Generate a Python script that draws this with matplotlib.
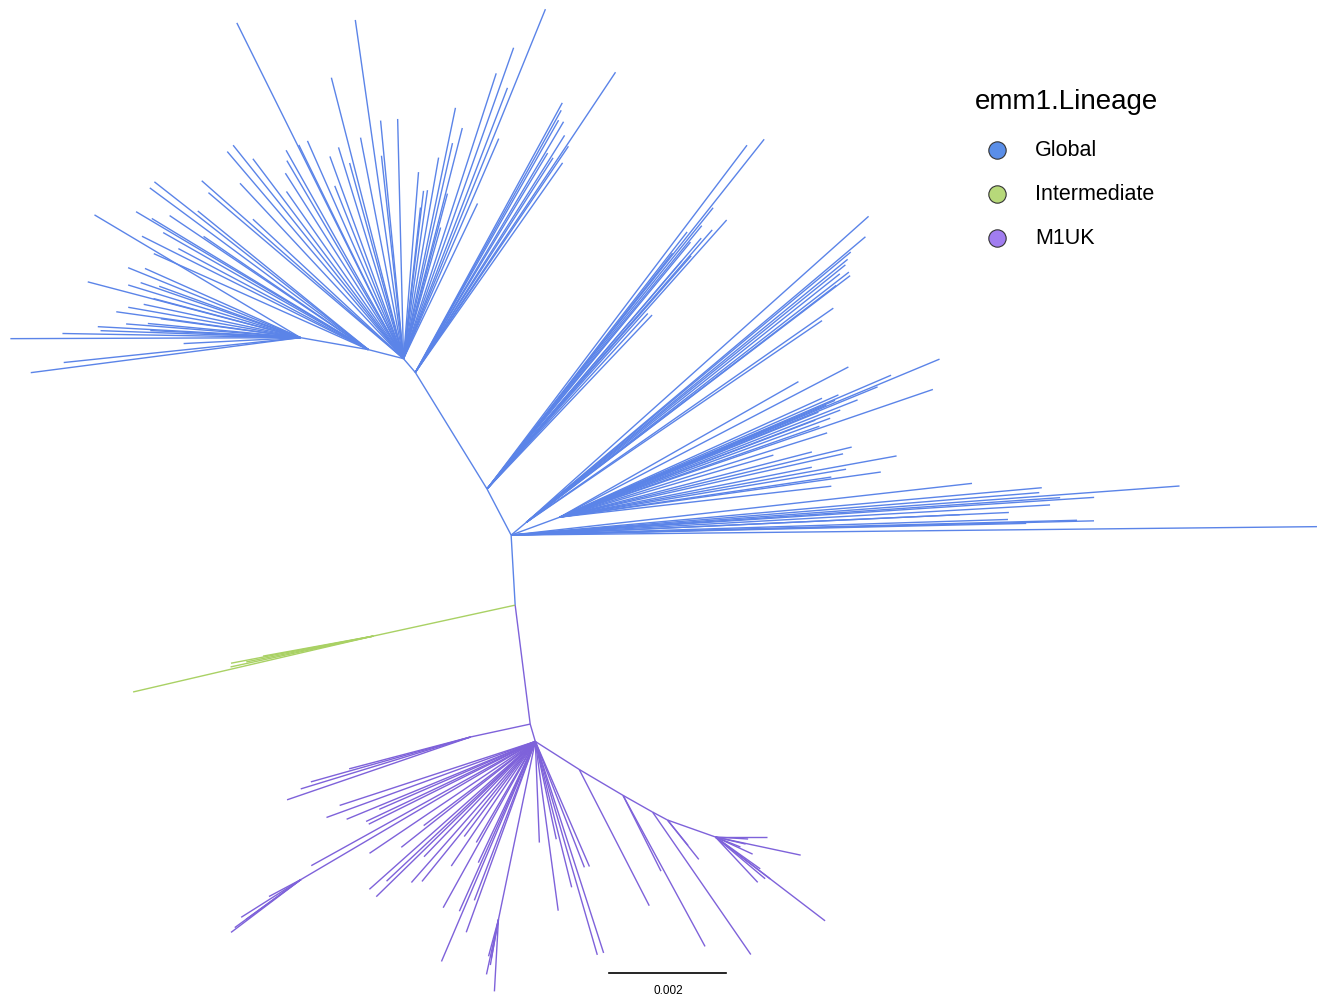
import numpy as np
import matplotlib.pyplot as plt
from matplotlib.collections import LineCollection

plt.rcParams['font.family'] = ['Liberation Sans', 'DejaVu Sans']

# unrooted tree, equal-angle layout
# internal branches: child, parent, direction (deg), length (1e-5 subst/site)
inner_child = ['A', 'N1', 'T', 'M', 'L', 'E', 'D', 'B', 'G1', 'C', 'C1', 'P',
               'Q1', 'Q2', 'S1', 'S2', 'S3', 'S4', 'S5']
inner_parent = ['R', 'A', 'N1', 'T', 'M', 'R', 'R', 'R', 'B', 'B', 'C', 'C',
                'P', 'P', 'P', 'S1', 'S2', 'S3', 'S4']
inner_angle = [117.6, 121.6, 130.6, 165.6, 170.0, 40.0, 20.2, 273.3, 192.3, 277.2,
               192.2, 286.4, 210.5, 258.3, 327.5, 329.4, 330.5, 331.9, 340.5]
inner_len = [89, 234, 31, 62, 118, 34, 89, 120, 248, 205,
             104, 31, 465, 311, 89, 87, 58, 29, 87]

lineages = ['Global', 'Intermediate', 'M1UK']
lineage_node = {'R': 'Global', 'A': 'Global', 'N1': 'Global', 'T': 'Global',
                'M': 'Global', 'L': 'Global', 'E': 'Global', 'D': 'Global',
                'B': 'Global', 'G1': 'Intermediate', 'C': 'M1UK', 'C1': 'M1UK',
                'P': 'M1UK', 'Q1': 'M1UK', 'Q2': 'M1UK', 'S1': 'M1UK',
                'S2': 'M1UK', 'S3': 'M1UK', 'S4': 'M1UK', 'S5': 'M1UK'}

# terminal branches per internal node
tips_R_angle = [0.6, 4.2, 5.1, 6.4, 3.7, 1.4, 1.5, 1.3, 2.6, 1.8, 2.6, 3.9, 4.6, 3.2]
tips_R_len = [1378, 1146, 911, 793, 999, 997, 968, 881, 852, 850, 768, 941, 906, 923]

tips_A_angle = [51.6, 52.9, 51.2, 48.3, 49.0, 52.1, 46.5, 47.5, 50.5, 49.5, 49.5,
                50.8, 51.8, 48.8]
tips_A_len = [763, 737, 617, 616, 587, 557, 410, 407, 547, 564, 513, 581, 513, 530]

tips_N1_angle = [56.3, 61.4, 59.4, 55.9, 54.9, 60.4, 57.3, 58.9, 57.8, 60.9]
tips_N1_len = [617, 525, 498, 467, 438, 496, 436, 438, 479, 513]

tips_T_angle = [116.4, 98.1, 104.4, 95.5, 91.4, 107.1, 113.8, 116.1, 119.4, 128.6,
                130.4, 125.0, 111.7, 96.2, 105.4, 137.2, 138.6, 139.6, 67.9, 69.0,
                66.6, 64.5, 78.3, 75.7, 77.2, 80.1, 85.4, 83.2, 81.9, 75.1, 74.2,
                83.6, 120.5, 122.5, 127.0, 133.0, 110.0, 101.0, 72.0, 70.5]
tips_T_len = [641, 585, 496, 409, 410, 378, 407, 407, 409, 467,
              465, 349, 318, 349, 347, 351, 460, 438, 645, 496,
              410, 294, 438, 407, 378, 349, 320, 289, 291, 292, 233,
              260, 393, 376, 428, 410, 368, 385, 513, 564]

tips_M_angle = [149.3, 143.5, 141.9, 153.4, 148.8, 150.3, 155.9, 140.9, 146.0, 152.0, 145.5]
tips_M_len = [462, 465, 465, 433, 433, 404, 402, 376, 410, 368, 342]

tips_L_angle = [180.2, 187.4, 186.0, 179.0, 176.9, 172.0, 182.9, 174.7, 165.3, 157.9,
                161.0, 156.0, 165.1, 177.3, 172.3, 149.2, 163.0, 168.0, 170.0, 175.5,
                178.0, 160.0]
tips_L_len = [496, 465, 407, 407, 347, 318, 200, 262, 376, 318,
              289, 291, 260, 257, 241, 410, 308, 274, 299, 299,
              342, 257]

tips_E_angle = [41.8, 40.1, 39.8, 38.9, 37.8, 37.3, 37.4, 34.9, 34.3, 38.4, 39.3]
tips_E_len = [785, 758, 722, 701, 698, 696, 667, 640, 612, 684, 710]

tips_D_angle = [22.6, 18.9, 23.2, 22.3, 27.5, 29.6, 19.3, 10.3, 8.0, 12.6, 8.4, 6.5,
                11.2, 16.2, 23.7, 23.0, 22.8, 20.9, 22.1, 20.1, 24.4, 20.8, 14.5,
                17.5, 9.5, 13.5, 21.5]
tips_D_len = [703, 674, 616, 587, 556, 469, 470, 585, 554, 496, 469, 467,
              439, 380, 520, 511, 494, 513, 477, 492, 492, 467, 445,
              479, 496, 513, 547]

tips_G1_angle = [193.1, 190.8, 192.2, 190.3, 191.5]
tips_G1_len = [422, 248, 250, 192, 222]

tips_C1_angle = [194.7, 197.0, 198.9, 195.7]
tips_C1_len = [215, 304, 332, 284]

tips_P_angle = [198.1, 200.0, 202.4, 205.3, 206.4, 209.0, 218.3, 221.7, 224.3, 223.2,
                228.7, 233.2, 239.7, 244.8, 246.9, 245.9, 250.1, 272.3, 277.7, 282.1,
                291.3, 293.4, 286.2, 287.9, 214.0, 226.0, 231.0, 236.0, 241.0, 203.5,
                217.0, 249.0, 284.0]
tips_P_len = [352, 380, 349, 320, 318, 438, 292, 380, 380, 349,
              321, 203, 200, 229, 409, 318, 347, 173, 292, 171,
              231, 233, 380, 380, 342, 274, 308, 257, 325, 291,
              239, 291, 257]

tips_Q1_angle = [217.1, 212.3, 216.0, 208.0, 216.0]
tips_Q1_len = [150, 121, 116, 62, 140]

tips_Q2_angle = [257.7, 254.9, 266.8, 259.6, 259.9]
tips_Q2_len = [96, 65, 123, 67, 79]

tips_S1_angle = [297.2]
tips_S1_len = [262]
tips_S2_angle = [298.5, 296.6]
tips_S2_len = [294, 145]
tips_S3_angle = [304.6]
tips_S3_len = [296]
tips_S4_angle = [308.5, 309.0]
tips_S4_len = [86, 56]
tips_S5_angle = [0.0, 348.0, 322.6, 313.0, 320.0, 356.5, 346.9, 338.2, 335.3, 324.6, 322.6]
tips_S5_len = [89, 149, 236, 106, 111, 56, 53, 46, 70, 94, 118]

tips = {
    'R': (tips_R_angle, tips_R_len), 'A': (tips_A_angle, tips_A_len),
    'N1': (tips_N1_angle, tips_N1_len), 'T': (tips_T_angle, tips_T_len),
    'M': (tips_M_angle, tips_M_len), 'L': (tips_L_angle, tips_L_len),
    'E': (tips_E_angle, tips_E_len), 'D': (tips_D_angle, tips_D_len),
    'G1': (tips_G1_angle, tips_G1_len), 'C1': (tips_C1_angle, tips_C1_len),
    'P': (tips_P_angle, tips_P_len), 'Q1': (tips_Q1_angle, tips_Q1_len),
    'Q2': (tips_Q2_angle, tips_Q2_len), 'S1': (tips_S1_angle, tips_S1_len),
    'S2': (tips_S2_angle, tips_S2_len), 'S3': (tips_S3_angle, tips_S3_len),
    'S4': (tips_S4_angle, tips_S4_len), 'S5': (tips_S5_angle, tips_S5_len),
}

line_colors = {'Global': '#5B84E8', 'Intermediate': '#A9D164', 'M1UK': '#7E62DA'}
key_colors = {'Global': '#5A8EE8', 'Intermediate': '#B7D97A', 'M1UK': '#A17DF0'}


def step(start, angle, length):
    a = np.deg2rad(angle)
    return (start[0] + length * np.cos(a), start[1] + length * np.sin(a))


pos = {'R': (0.0, 0.0)}
segs = {lin: [] for lin in lineages}
for child, parent, ang, ln in zip(inner_child, inner_parent, inner_angle, inner_len):
    pos[child] = step(pos[parent], ang, ln)
    segs[lineage_node[child]].append([pos[parent], pos[child]])

for node, (angs, lens) in tips.items():
    for ang, ln in zip(angs, lens):
        segs[lineage_node[node]].append([pos[node], step(pos[node], ang, ln)])

fig = plt.figure(figsize=(13.17, 10), dpi=100)
ax = fig.add_axes([0, 0, 1, 1])
for lin in lineages:
    ax.add_collection(LineCollection(segs[lin], colors=line_colors[lin], linewidths=1.0))

ax.set_xlim(-874, 1378)
ax.set_ylim(-795, 915)
ax.axis('off')

# scale bar
bar = 200  # 0.002 subst/site
ax.plot([168, 168 + bar], [-749, -749], color='black', lw=1.2)
ax.text(168 + bar / 2, -770, '0.002', ha='center', va='top', fontsize=8.5)

# legend
fig.text(0.740, 0.898, 'emm1.Lineage', fontsize=20, va='center', ha='left')
for i, lin in enumerate(lineages):
    y = 0.850 - i * 0.044
    fig.add_artist(plt.Line2D([0.757], [y], marker='o', markersize=12.5,
                              markerfacecolor=key_colors[lin], markeredgecolor='#333333',
                              markeredgewidth=0.8, transform=fig.transFigure))
    fig.text(0.786, y, lin, fontsize=15.5, va='center', ha='left')

fig.savefig('out.png', dpi=100, facecolor='white')
